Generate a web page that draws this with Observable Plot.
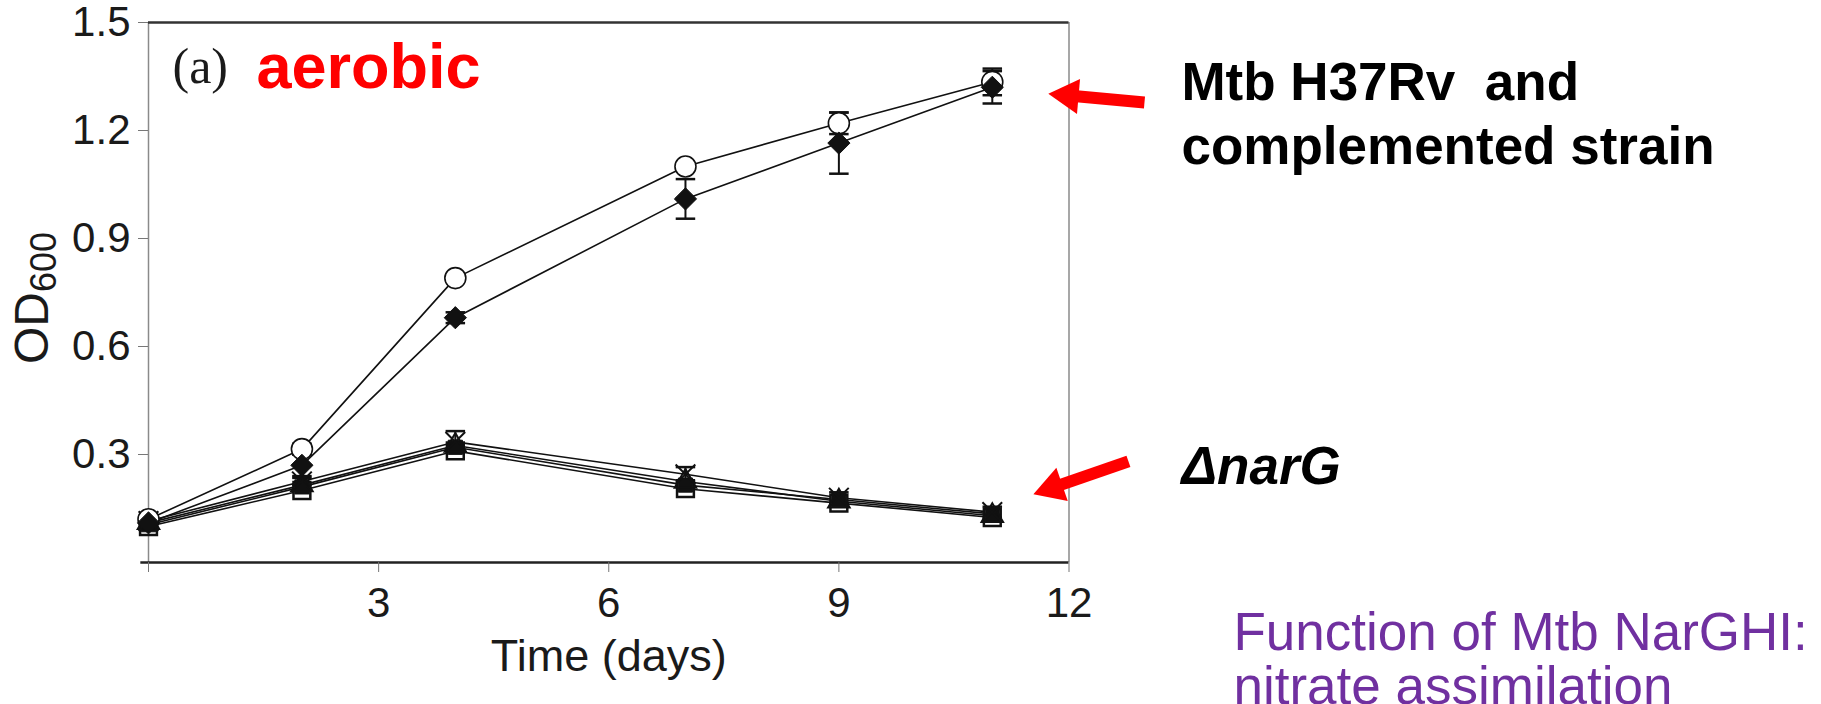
<!DOCTYPE html>
<html><head><meta charset="utf-8">
<script src="https://cdn.jsdelivr.net/npm/d3@7"></script>
<script src="https://cdn.jsdelivr.net/npm/@observablehq/plot@0.6"></script>
<style>html,body{margin:0;padding:0;background:#fff;} #chart svg{display:block;}</style>
</head><body><div id="chart"></div>
<script>
// ---- data ----
const times = [0, 2, 4, 7, 9, 11];
const h37rv = [0.12, 0.315, 0.79, 1.10, 1.22, 1.335];
const h37rvErr = [0.01, 0.015, 0.01, 0.01, 0.03, 0.037];
const complemented = [0.11, 0.27, 0.68, 1.01, 1.165, 1.32];
const complementedErr = [0.01, 0.03, 0.015, 0.055, 0.085, 0.045];
const narGFilled = [0.105, 0.21, 0.32, 0.215, 0.175, 0.135];
const narGOpen = [0.10, 0.20, 0.31, 0.205, 0.165, 0.125];
const narGCross = [0.115, 0.225, 0.335, 0.245, 0.18, 0.14];
const narGTriangle = [0.11, 0.215, 0.325, 0.225, 0.17, 0.13];
const narGErr = [0.01, 0.01, 0.03, 0.02, 0.015, 0.015];

const xTicks = [0, 3, 6, 9, 12];
const xTickLabels = ["", "3", "6", "9", "12"];
const yTicks = [0.3, 0.6, 0.9, 1.2, 1.5];
const yTickLabels = ["0.3", "0.6", "0.9", "1.2", "1.5"];

// annotations (data units)
const arrowShafts = [
  {x1: 12.984, y1: 1.278, x2: 11.993, y2: 1.297},
  {x1: 12.775, y1: 0.281, x2: 11.785, y2: 0.208}
];
const arrowHeads = [
  {x: 11.993, y: 1.297, rotate: -85},
  {x: 11.785, y: 0.208, rotate: -109}
];
const strainLabels = [
  {text: "Mtb H37Rv  and", x: 13.466, y: 1.2861},
  {text: "complemented strain", x: 13.466, y: 1.1083}
];
const mutantLabel = [{text: "\u0394narG", x: 13.466, y: 0.2194}];
const noteLines = [
  {text: "Function of Mtb NarGHI:", x: 14.144, y: -0.2417},
  {text: "nitrate assimilation", x: 14.144, y: -0.3944}
];

function rows(name, vals, errs) {
  return times.map((t, i) => ({series: name, t, od: vals[i], err: errs[i]}));
}
const table = [
  ...rows("H37Rv", h37rv, h37rvErr),
  ...rows("complemented", complemented, complementedErr),
  ...rows("narGFilled", narGFilled, narGErr),
  ...rows("narGOpen", narGOpen, narGErr),
  ...rows("narGCross", narGCross, narGErr),
  ...rows("narGTriangle", narGTriangle, narGErr)
];
const of = s => table.filter(d => d.series === s);
const withErr = table.filter(d => d.series === "H37Rv" || d.series === "complemented" || d.series === "narGCross");

const capSymbol = {draw(ctx, size) { const w = Math.sqrt(size) / 2; ctx.moveTo(-w, 0); ctx.lineTo(w, 0); }};

const chart = Plot.plot({
  width: 1821, height: 704,
  marginLeft: 148, marginRight: 752.5, marginTop: 22, marginBottom: 142,
  x: {domain: [0, 12]},
  y: {domain: [0, 1.5]},
  style: {fontFamily: "'Liberation Sans', Arial, sans-serif", background: "white", color: "#1a1a1a", overflow: "visible"},
  marks: [
    Plot.ruleX([0], {y1: 0, y2: 1.5, stroke: "#8a8a8a", strokeWidth: 1.5}),
    Plot.ruleX([12], {y1: 0, y2: 1.5, stroke: "#8a8a8a", strokeWidth: 1.5}),
    Plot.ruleY([1.5], {x1: 0, x2: 12, stroke: "#333", strokeWidth: 2.5}),
    Plot.ruleY([0], {x1: -0.1, x2: 12, stroke: "#222", strokeWidth: 2.5}),
    Plot.axisY(yTicks, {tickSize: 10, tickPadding: 8, fontSize: 42, stroke: "#777", tickFormat: d => yTickLabels[yTicks.indexOf(d)], label: null}),
    Plot.axisX(xTicks, {tickSize: 10, tickPadding: 15, fontSize: 42, stroke: "#777", tickFormat: d => xTickLabels[xTicks.indexOf(d)], label: null}),
    Plot.text(["Time (days)"], {frameAnchor: "bottom", lineAnchor: "bottom", dy: 108, fontSize: 45, fill: "#1a1a1a"}),
    // lines
    Plot.line(table, {x: "t", y: "od", z: "series", stroke: "#111", strokeWidth: 1.6}),
    // error bars
    Plot.ruleX(withErr, {x: "t", y1: d => d.od - d.err, y2: d => d.od + d.err, stroke: "#111", strokeWidth: 2}),
    Plot.dot(withErr, {x: "t", y: d => d.od + d.err, symbol: capSymbol, r: 11, stroke: "#111", strokeWidth: 2.5}),
    Plot.dot(withErr, {x: "t", y: d => d.od - d.err, symbol: capSymbol, r: 11, stroke: "#111", strokeWidth: 2.5}),
    // markers
    Plot.dot(of("narGOpen"), {x: "t", y: "od", symbol: "square", r: 9.5, fill: "white", stroke: "#111", strokeWidth: 2.5}),
    Plot.dot(of("narGFilled"), {x: "t", y: "od", symbol: "square", r: 8, fill: "#111", stroke: "#111", strokeWidth: 1}),
    Plot.dot(of("narGTriangle"), {x: "t", y: "od", symbol: "triangle", r: 8, fill: "none", stroke: "#111", strokeWidth: 2}),
    Plot.dot(of("narGCross"), {x: "t", y: "od", symbol: "times", r: 9, stroke: "#111", strokeWidth: 2}),
    Plot.dot(of("H37Rv"), {x: "t", y: "od", symbol: "circle", r: 10.5, fill: "white", stroke: "#111", strokeWidth: 1.6}),
    Plot.dot(of("complemented"), {x: "t", y: "od", symbol: "diamond2", r: 10, fill: "#111", stroke: "#111", strokeWidth: 1}),
    // annotations
    Plot.text(["(a)"], {x: [0.313], y: [1.3333], text: d => d, textAnchor: "start", lineAnchor: "bottom", fontSize: 50, fontFamily: "'Liberation Serif', 'Times New Roman', serif", fill: "#1a1a1a"}),
    Plot.text(["aerobic"], {x: [1.408], y: [1.3194], text: d => d, textAnchor: "start", lineAnchor: "bottom", fontSize: 63, fontWeight: "bold", fill: "#ff0000"}),
    Plot.link(arrowShafts, {x1: "x1", y1: "y1", x2: "x2", y2: "y2", stroke: "#ff0000", strokeWidth: 12}),
    Plot.dot(arrowHeads, {x: "x", y: "y", rotate: "rotate", symbol: "triangle", r: 13, fill: "#ff0000"}),
    Plot.text(strainLabels, {x: "x", y: "y", text: "text", textAnchor: "start", lineAnchor: "bottom", fontSize: 53, fontWeight: "bold", fill: "#000"}),
    Plot.text(mutantLabel, {x: "x", y: "y", text: "text", textAnchor: "start", lineAnchor: "bottom", fontSize: 53, fontWeight: "bold", fontStyle: "italic", fill: "#000"}),
    Plot.text(noteLines, {x: "x", y: "y", text: "text", textAnchor: "start", lineAnchor: "bottom", fontSize: 53, fill: "#7030a0"})
  ]
});

// y-axis label with subscript
const svg = d3.select(chart);
const lab = svg.append("text")
  .attr("transform", "translate(48,298) rotate(-90)")
  .attr("text-anchor", "middle")
  .attr("fill", "#1a1a1a")
  .style("font-family", "'Liberation Sans', Arial, sans-serif");
lab.append("tspan").attr("font-size", 48).text("OD");
lab.append("tspan").attr("font-size", 36).attr("dy", 8).text("600");

document.getElementById("chart").appendChild(chart);
</script>
</body></html>
